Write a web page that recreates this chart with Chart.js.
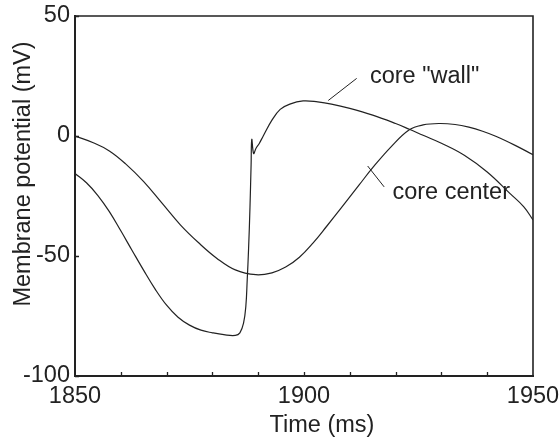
<!DOCTYPE html>
<html>
<head>
<meta charset="utf-8">
<script src="https://cdn.jsdelivr.net/npm/chart.js@4.4.1/dist/chart.umd.min.js"></script>
<style>
  html, body { margin: 0; padding: 0; background: #ffffff; }
  #wrap { width: 560px; height: 438px; position: relative; }
</style>
</head>
<body>
<div id="wrap"><canvas id="c" width="560" height="438"></canvas></div>
<script>
// ---- data ----
const coreCenterTime = [1850, 1854, 1857.5, 1861, 1865, 1869, 1873, 1877, 1881, 1885, 1889.5, 1893, 1896, 1899, 1902, 1905, 1908, 1912, 1915, 1919, 1923, 1926, 1929.5, 1933, 1936, 1939, 1942, 1946, 1950];
const coreCenterMV   = [0, -2.8, -6.2, -11.5, -19, -28, -37, -44.5, -51, -55.8, -57.8, -57, -54.6, -50.5, -44.5, -37.5, -30.3, -20.5, -13.2, -4.5, 2.6, 4.6, 5.2, 4.8, 3.7, 2.0, -0.2, -3.8, -7.8];

const coreWallTime = [1850, 1852.5, 1855, 1857.5, 1860, 1862.5, 1865, 1867.5, 1870, 1872.5, 1875, 1877.5, 1880, 1882.5, 1885, 1886, 1886.8, 1887.3, 1887.6, 1887.9, 1888.2, 1888.45, 1888.6, 1889.0, 1889.5, 1890.2, 1891.1, 1893, 1894.8, 1896.9, 1899.8, 1903, 1906, 1910, 1915, 1920, 1923, 1926, 1930, 1935, 1940, 1945, 1948, 1950];
const coreWallMV   = [-15.6, -19.5, -24.8, -31.5, -39.5, -47.8, -56, -63.8, -70.5, -75.5, -78.8, -80.9, -82, -82.8, -83.1, -82, -78, -71, -60, -47, -30, -12, -1.4, -7.3, -5.2, -3.2, 0, 6.6, 11.1, 13.3, 14.6, 14.2, 13.3, 11.5, 8.7, 5.2, 2.8, 0.3, -3, -8, -15, -24, -29.5, -35];

const xTickLabels = [1850, 1900, 1950];
const xMinorTicks = [1860, 1870, 1880, 1890, 1900, 1910, 1920, 1930, 1940];
const yTickLabels = [-100, -50, 0, 50];
const seriesNames = ['core center', 'core "wall"'];
const xTitle = 'Time (ms)';
const yTitle = 'Membrane potential (mV)';
// annotation labels, anchored in data units: text position, leader line from / to
const annotations = [
  { text: 'core "wall"', at: [1914.4, 22.0], from: [1905.3, 14.8], to: [1911.5, 24.0] },
  { text: 'core center', at: [1919.3, -26.2], from: [1913.9, -12.5], to: [1917.5, -21.2] }
];

const FONT = '"Liberation Sans", Arial, Helvetica, sans-serif';
const FSIZE = 23.5;
const INK = '#222222';

const toXY = (xs, ys) => xs.map((x, i) => ({ x: x, y: ys[i] }));

const framePlugin = {
  id: 'framePlugin',
  afterDraw(chart) {
    const ctx = chart.ctx;
    const a = chart.chartArea;
    const xs = chart.scales.x, ys = chart.scales.y;
    ctx.save();
    // frame top & right
    ctx.strokeStyle = INK;
    ctx.lineWidth = 1.6;
    ctx.beginPath();
    ctx.moveTo(a.left, a.top);
    ctx.lineTo(a.right, a.top);
    ctx.lineTo(a.right, a.bottom);
    ctx.stroke();
    // inward ticks
    ctx.lineWidth = 1.3;
    ctx.beginPath();
    xMinorTicks.forEach(v => {
      const px = Math.round(xs.getPixelForValue(v)) + 0.5;
      ctx.moveTo(px, a.bottom);
      ctx.lineTo(px, a.bottom - 4);
    });
    yTickLabels.forEach(v => {
      const py = Math.round(ys.getPixelForValue(v)) + 0.5;
      ctx.moveTo(a.left, py);
      ctx.lineTo(a.left + 4, py);
    });
    ctx.stroke();
    // annotations
    ctx.fillStyle = INK;
    ctx.font = FSIZE + 'px ' + FONT;
    ctx.textAlign = 'left';
    ctx.textBaseline = 'alphabetic';
    ctx.lineWidth = 1;
    annotations.forEach(an => {
      ctx.beginPath();
      ctx.moveTo(xs.getPixelForValue(an.from[0]), ys.getPixelForValue(an.from[1]));
      ctx.lineTo(xs.getPixelForValue(an.to[0]), ys.getPixelForValue(an.to[1]));
      ctx.stroke();
      ctx.fillText(an.text, xs.getPixelForValue(an.at[0]), ys.getPixelForValue(an.at[1]));
    });
    // axis titles
    ctx.textAlign = 'center';
    ctx.fillText(xTitle, (a.left + a.right) / 2 + 18, 431.5);
    ctx.translate(30, (a.top + a.bottom) / 2 - 22);
    ctx.rotate(-Math.PI / 2);
    ctx.fillText(yTitle, 0, 0);
    ctx.restore();
  }
};

new Chart(document.getElementById('c'), {
  type: 'line',
  data: {
    datasets: [
      { label: seriesNames[0], data: toXY(coreCenterTime, coreCenterMV) },
      { label: seriesNames[1], data: toXY(coreWallTime, coreWallMV) }
    ]
  },
  options: {
    responsive: false,
    animation: false,
    devicePixelRatio: 1,
    layout: { padding: { top: 16, right: 27, bottom: 0, left: 0 } },
    elements: {
      line: { borderColor: INK, borderWidth: 1.2, tension: 0.4, fill: false },
      point: { radius: 0, hoverRadius: 0 }
    },
    plugins: { legend: { display: false }, tooltip: { enabled: false } },
    scales: {
      x: {
        type: 'linear', min: 1850, max: 1950,
        afterBuildTicks: s => { s.ticks = xTickLabels.map(v => ({ value: v })); },
        afterFit: s => { s.height = 62; s.paddingLeft = 0; s.paddingRight = 0; },
        grid: { display: false, drawTicks: false },
        border: { display: true, color: INK, width: 2 },
        ticks: { color: INK, font: { family: FONT, size: FSIZE }, padding: 6, maxRotation: 0, autoSkip: false,
                 callback: v => String(v) }
      },
      y: {
        type: 'linear', min: -100, max: 50,
        afterBuildTicks: s => { s.ticks = yTickLabels.map(v => ({ value: v })); },
        afterFit: s => { s.width = 75; s.paddingTop = 0; s.paddingBottom = 0; },
        grid: { display: false, drawTicks: false },
        border: { display: true, color: INK, width: 2 },
        ticks: { color: INK, font: { family: FONT, size: FSIZE }, padding: 5, callback: v => String(v) }
      }
    }
  },
  plugins: [framePlugin]
});
</script>
</body>
</html>
